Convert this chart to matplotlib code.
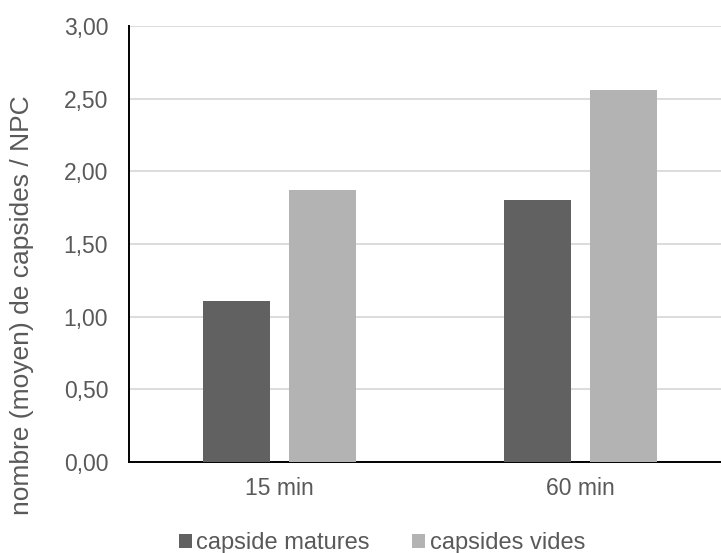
import matplotlib
matplotlib.use("Agg")
import matplotlib.pyplot as plt
import numpy as np
from matplotlib.ticker import FuncFormatter

categories = ["15 min", "60 min"]
series_names = ["capside matures", "capsides vides"]
matures = [1.11, 1.80]
vides = [1.87, 2.56]
yticks = [0.0, 0.5, 1.0, 1.5, 2.0, 2.5, 3.0]

plt.rcParams['font.family'] = ['Liberation Sans', 'DejaVu Sans']

fig = plt.figure(figsize=(7.21, 5.53), dpi=100)
# the plot area runs a little past the right edge, as in the original crop
ax = fig.add_axes([129 / 721, 1 - 462 / 553, 602 / 721, 436 / 553])

x = np.arange(len(categories))
w = 0.222
gap = 0.063
ax.bar(x - (w + gap) / 2, matures, w, color='#616161', label=series_names[0], zorder=3)
ax.bar(x + (w + gap) / 2, vides, w, color='#b3b3b3', label=series_names[1], zorder=3)

ax.set_xlim(-0.5, 1.5)
ax.set_ylim(0, 3.0)
ax.set_yticks(yticks)
ax.yaxis.set_major_formatter(FuncFormatter(lambda v, p: f"{v:.2f}".replace('.', ',')))
ax.set_xticks(x)
ax.set_xticklabels(categories)
ax.grid(axis='y', color='#d9d9d9', linewidth=1.3, zorder=0)
ax.tick_params(axis='both', length=0, labelsize=16.5, labelcolor='#595959')
ax.tick_params(axis='y', pad=15)
ax.tick_params(axis='x', pad=11)

for s in ['top', 'right']:
    ax.spines[s].set_visible(False)
ax.spines['left'].set_color('black')
ax.spines['bottom'].set_color('black')
ax.spines['left'].set_linewidth(1.4)
ax.spines['bottom'].set_linewidth(1.4)

# y title sits lower than the axis centre in the original
fig.text(22 / 721, 1 - 305 / 553, "nombre (moyen) de capsides / NPC", rotation=90,
         ha='center', va='center', fontsize=19, color='#595959')

fig.legend(loc='center', bbox_to_anchor=(382 / 721, 1 - 543 / 553), ncol=2, frameon=False,
           fontsize=17, labelcolor='#595959', handlelength=0.55, handleheight=0.55,
           handletextpad=0.2, columnspacing=1.8, borderaxespad=0)

fig.savefig("out.png", dpi=100)
